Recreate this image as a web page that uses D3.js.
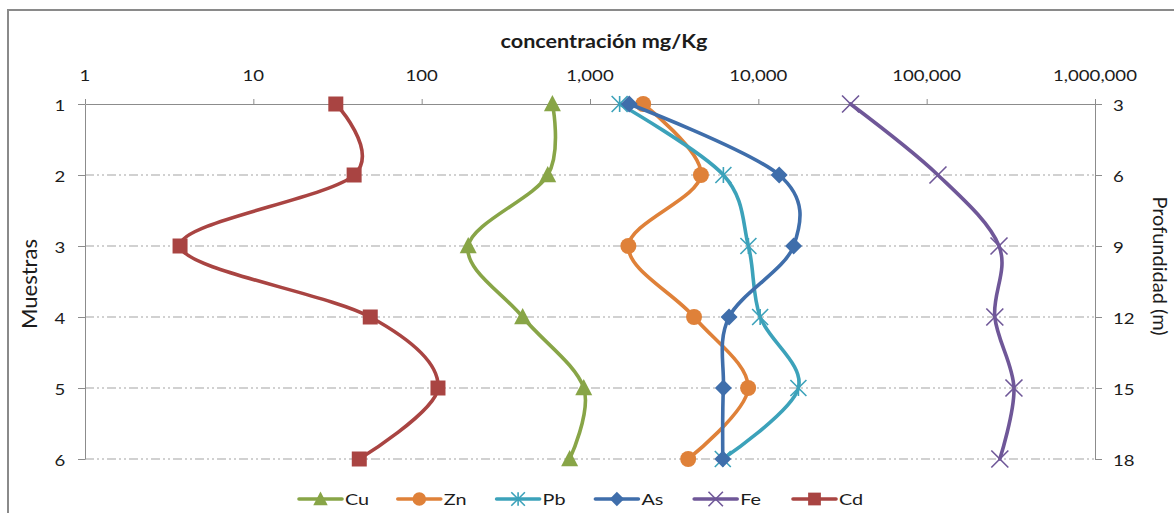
<!DOCTYPE html>
<html>
<head>
<meta charset="utf-8">
<script src="https://cdn.jsdelivr.net/npm/d3@7"></script>
<style>
  body { margin: 0; background: #ffffff; }
  svg text { font-family: Lato, "Open Sans", sans-serif; fill: #1c1c1c; }
</style>
</head>
<body>
<svg id="chart" width="1174" height="513"></svg>
<script>
// Sample numbers (left axis) and their depths in metres (right axis)
const samples = [1, 2, 3, 4, 5, 6];
const depths = [3, 6, 9, 12, 15, 18];
// Concentration ticks, mg/Kg (log scale)
const concTicks = [1, 10, 100, 1000, 10000, 100000, 1000000];

// Concentration per sample, mg/Kg
const cuValues = [598, 561, 189, 398, 918, 757];
const znValues = [2070, 4560, 1690, 4150, 8700, 3830];
const pbValues = [1500, 6200, 8730, 10250, 17300, 6150];
const asValues = [1710, 13300, 16200, 6700, 6200, 6150];
const feValues = [35300, 116700, 269000, 254000, 330000, 272000];
const cdValues = [30.9, 39.7, 3.67, 49.5, 125, 42.6];

const seriesNames = ["Cu", "Zn", "Pb", "As", "Fe", "Cd"];
const seriesValues = [cuValues, znValues, pbValues, asValues, feValues, cdValues];
const seriesColors = ["#88a547", "#df8139", "#3ca2ba", "#3f6eab", "#6f5798", "#a94442"];
const seriesMarkers = ["triangle", "circle", "star", "diamond", "cross", "square"];

const svg = d3.select("#chart");
const SX = 1.24; // horizontal stretch of the typeface

const x = d3.scaleLog().domain([1, 1000000]).range([85, 1095]);
const y = d3.scaleLinear().domain([1, 6]).range([104, 459]);
const yDepth = d3.scaleLinear().domain([3, 18]).range([104, 459]);

// Chart frame
svg.append("path")
  .attr("d", "M8,513V10H1174")
  .attr("fill", "none")
  .attr("stroke", "#8a8a8a")
  .attr("stroke-width", 2);

// Horizontal gridlines (dash-dot-dot)
svg.append("g").selectAll("line")
  .data(samples.slice(1))
  .join("line")
  .attr("x1", x(1)).attr("x2", x(1000000))
  .attr("y1", d => y(d)).attr("y2", d => y(d))
  .attr("stroke", "#a3a3a3")
  .attr("stroke-width", 1)
  .attr("stroke-dasharray", "9,3,2,3,2,3");

// Top concentration axis
const topAxis = svg.append("g")
  .attr("transform", `translate(0,${y(1)})`)
  .call(d3.axisTop(x).tickValues(concTicks).tickSize(5).tickSizeOuter(0).tickFormat(""));
topAxis.select(".domain").attr("stroke", "#8c8c8c");
topAxis.selectAll(".tick line").attr("stroke", "#8c8c8c");

// Left sample axis
const leftAxis = svg.append("g")
  .attr("transform", `translate(${x(1)},0)`)
  .call(d3.axisLeft(y).tickValues(samples).tickSize(7).tickSizeOuter(0).tickFormat(""));
leftAxis.select(".domain").attr("stroke", "#8c8c8c");
leftAxis.selectAll(".tick line").attr("stroke", "#8c8c8c");

// Right depth axis
const rightAxis = svg.append("g")
  .attr("transform", `translate(${x(1000000)},0)`)
  .call(d3.axisRight(yDepth).tickValues(depths).tickSize(7).tickSizeOuter(0).tickFormat(""));
rightAxis.select(".domain").attr("stroke", "#8c8c8c");
rightAxis.selectAll(".tick line").attr("stroke", "#8c8c8c");

// Stretched text helper
function label(g, str, px, py, opts = {}) {
  return g.append("text")
    .attr("transform", `translate(${px},${py}) scale(${opts.sx || SX},1)`)
    .attr("text-anchor", opts.anchor || "middle")
    .style("font-size", (opts.size || 15) + "px")
    .style("font-weight", opts.weight || "normal")
    .text(str);
}

const fmt = d3.format(",");
const texts = svg.append("g");
concTicks.forEach(t => label(texts, fmt(t), x(t), 81));
samples.forEach(s => label(texts, String(s), 60, y(s) + 6.5));
depths.forEach(d => label(texts, String(d), 1113, yDepth(d) + 6.5, { anchor: "start" }));

// Titles
label(texts, "concentración mg/Kg", 604, 48, { size: 18, weight: "bold", sx: 1.2 });
texts.append("text")
  .attr("transform", "translate(37,284) rotate(-90)")
  .attr("text-anchor", "middle")
  .style("font-size", "22px")
  .text("Muestras");
texts.append("text")
  .attr("transform", "translate(1153,266) rotate(90)")
  .attr("text-anchor", "middle")
  .style("font-size", "20px")
  .text("Profundidad (m)");

// Marker shapes
function markerPath(type, s) {
  const h = s / 2;
  switch (type) {
    case "square": return `M${-h},${-h}H${h}V${h}H${-h}Z`;
    case "circle": return d3.symbol(d3.symbolCircle, Math.PI * h * h)();
    case "diamond": return `M0,${-h}L${h},0L0,${h}L${-h},0Z`;
    case "triangle": return `M0,${-h * 1.05}L${h},${h * 0.85}L${-h},${h * 0.85}Z`;
    case "cross": return `M${-h},${-h}L${h},${h}M${h},${-h}L${-h},${h}`;
    case "star": return `M${-h},${-h}L${h},${h}M${h},${-h}L${-h},${h}M0,${-h}V${h}`;
  }
}
const markerSize = { square: 15, circle: 16, diamond: 17, triangle: 17, cross: 17, star: 16 };

function drawMarker(g, type, color, px, py, scale = 1) {
  const open = type === "cross" || type === "star";
  g.append("path")
    .attr("transform", `translate(${px},${py})`)
    .attr("d", markerPath(type, markerSize[type] * scale))
    .attr("fill", open ? "none" : color)
    .attr("stroke", color)
    .attr("stroke-width", open ? 1.6 : 0);
}

// Series: smoothed lines with markers
const line = d3.line()
  .x(d => x(d.v))
  .y(d => y(d.s))
  .curve(d3.curveCatmullRom.alpha(0));

const plot = svg.append("g");
seriesNames.forEach((name, i) => {
  const pts = seriesValues[i].map((v, k) => ({ v, s: samples[k] }));
  const g = plot.append("g");
  g.append("path")
    .attr("d", line(pts))
    .attr("fill", "none")
    .attr("stroke", seriesColors[i])
    .attr("stroke-width", 3.6)
    .attr("stroke-linejoin", "round")
    .attr("stroke-linecap", "round");
  pts.forEach(p => drawMarker(g, seriesMarkers[i], seriesColors[i], x(p.v), y(p.s)));
});

// Legend
const legend = svg.append("g");
const legendY = 499;
seriesNames.forEach((name, i) => {
  const x0 = 299 + i * 98.8;
  legend.append("line")
    .attr("x1", x0).attr("x2", x0 + 43)
    .attr("y1", legendY).attr("y2", legendY)
    .attr("stroke", seriesColors[i])
    .attr("stroke-width", 3.6)
    .attr("stroke-linecap", "round");
  drawMarker(legend, seriesMarkers[i], seriesColors[i], x0 + 21.5, legendY, 0.85);
  label(legend, name, x0 + 46, legendY + 6, { anchor: "start", size: 16 });
});
</script>
</body>
</html>
